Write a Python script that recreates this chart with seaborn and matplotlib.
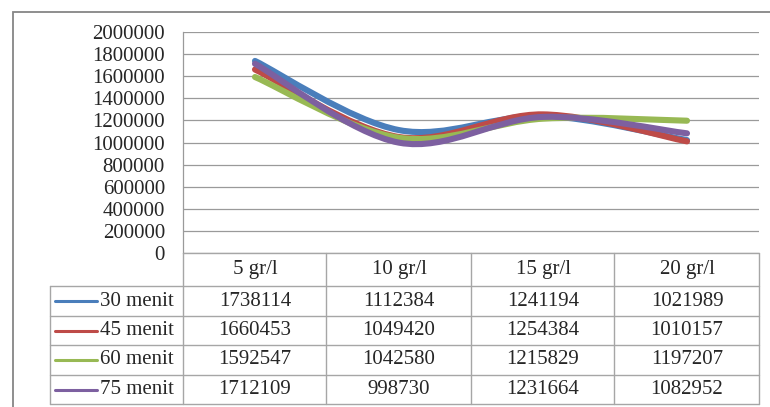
import numpy as np
import seaborn as sns
import matplotlib
matplotlib.use("Agg")
import matplotlib.pyplot as plt
from matplotlib.path import Path
from matplotlib.patches import PathPatch, Rectangle
from matplotlib.lines import Line2D
import matplotlib.transforms as mtransforms

# data
categories = ["5 gr/l", "10 gr/l", "15 gr/l", "20 gr/l"]
series_names = ["30 menit", "45 menit", "60 menit", "75 menit"]
menit_30 = [1738114, 1112384, 1241194, 1021989]
menit_45 = [1660453, 1049420, 1254384, 1010157]
menit_60 = [1592547, 1042580, 1215829, 1197207]
menit_75 = [1712109, 998730, 1231664, 1082952]
yticks = list(range(0, 2000001, 200000))

pal = sns.color_palette(["#4A7EBB", "#BE4B48", "#98B954", "#7D60A0"])

sns.set_style("white")
plt.rcParams["font.family"] = ["Liberation Serif", "DejaVu Serif"]
fs = 15

W, H = 770, 407
fig = plt.figure(figsize=(W / 100, H / 100), dpi=100)


def fx(px):
    return px / W


def fy(py):
    return 1 - py / H


# plot area
ax = fig.add_axes([fx(183), fy(253), fx(759) - fx(183), fy(32) - fy(253)])
ax.set_xlim(-0.5, len(categories) - 0.5)
ax.set_ylim(0, 2000000)
ax.set_yticks(yticks)
ax.set_yticklabels([str(t) for t in yticks], fontsize=fs)
ax.set_xticks([])
ax.tick_params(axis="y", length=0, pad=13)
for t in yticks:
    ax.axhline(t, color="#9a9a9a", lw=0.9, zorder=1)
for s in ["top", "right", "bottom"]:
    ax.spines[s].set_visible(False)
ax.spines["left"].set_color("#9a9a9a")
ax.spines["left"].set_linewidth(0.9)


def smooth_path(vals):
    # Excel style smoothed line: cubic bezier through the points
    pts = np.array([[i, v] for i, v in enumerate(vals)], dtype=float)
    n = len(pts)
    verts = [pts[0]]
    codes = [Path.MOVETO]
    for i in range(n - 1):
        p0 = pts[max(i - 1, 0)]
        p1 = pts[i]
        p2 = pts[i + 1]
        p3 = pts[min(i + 2, n - 1)]
        verts += [p1 + (p2 - p0) / 6, p2 - (p3 - p1) / 6, p2]
        codes += [Path.CURVE4] * 3
    return Path(verts, codes)


all_series = [menit_30, menit_45, menit_60, menit_75]
for k, vals in enumerate(all_series):
    patch = PathPatch(smooth_path(vals), facecolor="none", edgecolor=pal[k],
                      lw=4.4, capstyle="round", joinstyle="round", zorder=3 + k)
    ax.add_patch(patch)

# data table below the plot
lc = "#a6a6a6"
col_edges = [183, 326, 471, 614, 759]
row_edges = [253, 286, 316, 345, 375, 404]


def hline(x0, x1, y):
    fig.add_artist(Line2D([fx(x0), fx(x1)], [fy(y), fy(y)], color=lc, lw=1.0,
                          transform=fig.transFigure))


def vline(x, y0, y1):
    fig.add_artist(Line2D([fx(x), fx(x)], [fy(y0), fy(y1)], color=lc, lw=1.0,
                          transform=fig.transFigure))


hline(183, 759, row_edges[0])
for y in row_edges[1:]:
    hline(50, 759, y)
for x in col_edges:
    vline(x, row_edges[0], row_edges[-1])
vline(50, row_edges[1], row_edges[-1])

trans = mtransforms.blended_transform_factory(ax.transData, fig.transFigure)
for i, c in enumerate(categories):
    fig.text(i, fy((row_edges[0] + row_edges[1]) / 2), c, transform=trans,
             ha="center", va="center", fontsize=fs)

for k, (name, vals) in enumerate(zip(series_names, all_series)):
    yc = fy((row_edges[k + 1] + row_edges[k + 2]) / 2)
    fig.add_artist(Line2D([fx(55), fx(97)], [yc, yc], color=pal[k], lw=2.2,
                          solid_capstyle="round", transform=fig.transFigure))
    fig.text(fx(100), yc, name, ha="left", va="center", fontsize=fs)
    for i, v in enumerate(vals):
        fig.text(i, yc, str(v), transform=trans, ha="center", va="center",
                 fontsize=fs)

# chart frame
fig.add_artist(Rectangle((fx(13), fy(420)), fx(790) - fx(13), fy(12) - fy(420),
                         fill=False, edgecolor="#868686", lw=1.3,
                         transform=fig.transFigure))

fig.savefig("out.png", dpi=100)
